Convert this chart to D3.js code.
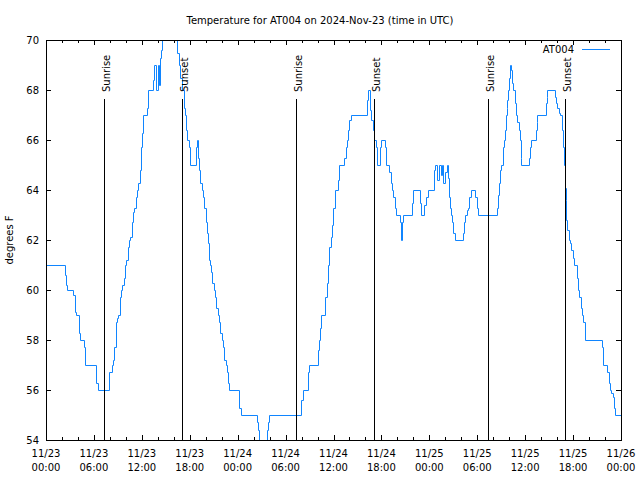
<!DOCTYPE html>
<html>
<head>
<meta charset="utf-8">
<script src="https://cdn.jsdelivr.net/npm/d3@7"></script>
<style>
  body { margin: 0; background: #fff; }
</style>
</head>
<body>
<svg id="chart" width="640" height="480"></svg>
<script>
// ---------------- DATA ----------------
// hours since 2024-11-23 00:00 UTC at which the reading changes
const hours = [
  0, 2.34, 2.50, 2.67, 3.42, 3.59, 3.76, 4.09, 4.26, 4.76, 4.93, 6.30, 6.47, 7.89, 8.22, 8.39, 8.56, 8.72, 8.89, 9.06, 9.22, 9.39, 9.56, 9.73, 9.89, 10.06, 10.23, 10.39, 10.56, 10.73, 10.89, 11.06, 11.23, 11.39, 11.56, 11.73, 11.89, 12.06, 12.19,
  12.69, 12.81, 13.36, 13.56, 13.81, 14.02, 14.15, 14.27, 14.40, 14.52, 14.69, 16.44, 16.61, 16.78, 16.99, 17.24, 17.36, 17.49, 17.61, 17.86, 18.03, 18.78, 18.91, 19.03, 19.16, 19.33, 19.49, 19.66, 19.83, 19.99, 20.16, 20.29, 20.41, 20.58, 20.70, 20.83, 21.00, 21.16, 21.33, 21.50, 21.66, 21.83, 22.00, 22.16, 22.33, 22.50, 22.66, 22.83, 22.96,
  24.21, 24.37, 26.38, 26.54, 26.71, 27.67, 27.84, 27.96, 31.97, 32.14, 32.85, 32.97, 34.00, 34.14, 34.31, 34.48, 34.98, 35.14, 35.31, 35.48, 35.65, 35.81, 35.98, 36.15,
  36.56, 36.73, 37.35, 37.52, 37.69, 37.81, 37.98, 38.15, 40.19, 40.32, 40.53, 40.74, 40.90, 41.03, 41.28, 41.40, 41.78, 41.90, 42.40, 42.57, 42.99, 43.16, 43.32, 43.49, 43.66, 43.78, 44.37, 44.45, 44.53, 44.66, 45.79, 45.95, 46.83, 47.00, 47.37, 47.58, 47.79,
  48.58, 48.71, 48.96, 49.21, 49.46, 49.63, 49.76, 50.01, 50.17, 50.34, 50.46, 50.58, 50.75, 50.88, 51.00, 51.17, 52.25, 52.38, 52.50, 52.67, 52.84, 53.01, 53.17, 53.67, 53.92, 54.09, 56.47, 56.60, 56.72, 56.85, 57.01, 57.18, 57.35, 57.51, 57.60, 57.68, 57.76, 57.85, 58.01, 58.14, 58.26, 58.39, 58.52, 58.68, 58.85, 59.02, 59.18, 59.31, 59.43, 59.52,
  60.49, 60.61, 60.74, 61.32, 61.45, 61.53, 62.57, 62.70, 62.78, 63.70, 63.87, 64.03, 64.20, 64.37, 64.66, 64.79, 64.91, 64.99, 65.08, 65.16, 65.29, 65.45, 65.62, 65.79, 65.95, 66.12, 66.45, 66.62, 66.79, 66.96, 67.12, 67.29, 67.46, 69.59, 69.75, 70.30, 70.46, 70.63, 70.80, 70.96, 71.13, 71.30, 72.00
];
// temperature (degrees F) from each of those times on
const tempF = [
  61, 60.6, 60.2, 60, 59.8, 59.1, 59.0, 58.3, 58, 57.7, 57, 56.3, 56, 56.7, 57, 57.2, 57.7, 58.7, 58.9, 59, 59.7, 60, 60.2, 60.5, 61, 61.2, 61.7, 62, 62.1, 62.7, 63.1, 63.3, 63.7, 64, 64.3, 64.8, 65.7, 66.3, 67,
  67.3, 68, 68.4, 69, 68, 69, 68.2, 69.3, 69.6, 70, 71, 69.5, 69, 68.5, 68, 67.3, 67, 66.4, 66, 65.7, 65, 65.7, 66, 65.3, 64.8, 64.3, 64, 63.7, 63.3, 62.7, 62.3, 61.9, 61.2, 61, 60.7, 60.3, 60, 59.7, 59.3, 59, 58.7, 58.3, 58, 57.7, 57.2, 57, 56.7, 56.3, 56,
  55.3, 55, 54.7, 54.4, 53.5, 54.4, 54.7, 55, 55.6, 56, 56.7, 57, 57.6, 58, 58.5, 59, 59.7, 60.3, 61, 61.7, 62.1, 62.6, 63.3, 64,
  64.4, 65, 65.3, 65.7, 66, 66.4, 66.8, 67, 67.6, 68, 67.2, 66.8, 66.4, 66, 65.7, 65, 65.7, 66, 65.7, 65, 64.7, 64.3, 64, 63.7, 63.3, 63, 62.7, 62, 62.7, 63, 63.5, 64, 63.5, 63, 63.4, 63.7, 64,
  64.8, 65, 64.4, 65, 64.6, 65, 64.3, 64.7, 65, 64.5, 63.7, 63.3, 63, 62.7, 62.3, 62, 62.3, 62.7, 63, 63.2, 63.3, 63.7, 64, 63.7, 63.3, 63, 63.3, 63.8, 64.3, 64.8, 65, 65.7, 66, 66.4, 67, 67.3, 67.6, 68, 68.5, 69, 68.8, 68.3, 68, 67.5, 67, 66.7, 66.4, 66, 65.3, 65,
  65.3, 65.7, 66, 66.4, 66.7, 67, 67.5, 67.7, 68, 67.7, 67.5, 67.3, 67.1, 67, 66.4, 65.7, 65, 64.1, 63.6, 62.8, 62.4, 62, 61.9, 61.6, 61.3, 61, 60.5, 60, 59.7, 59.3, 59, 58.7, 58, 57.7, 57, 56.7, 56.3, 56, 55.9, 55.7, 55.3, 55, 55
];
const sunriseHours = [7.30, 31.34, 55.38];
const sunsetHours  = [17.07, 41.11, 65.03];
const yTicks = [54, 56, 58, 60, 62, 64, 66, 68, 70];
const yDomain = [54, 70];
const xDomainHours = [0, 72];
const titleText = "Temperature for AT004 on 2024-Nov-23 (time in UTC)";
const seriesName = "AT004";
const yLabel = "degrees F";
const sunriseLabel = "Sunrise";
const sunsetLabel = "Sunset";

// ---------------- DRAWING ----------------
const FONT = "DejaVu Sans";
const LINE_COLOR = "#1085ff";
const start = Date.UTC(2024, 10, 23);
const toDate = h => new Date(start + h * 3600e3);
const m = { l: 46, r: 621, t: 40, b: 440 };
const snap = v => Math.round(v) + 0.5;

const x = d3.scaleUtc().domain(xDomainHours.map(toDate)).range([m.l, m.r]);
const y = d3.scaleLinear().domain(yDomain).range([m.b, m.t]);

const svg = d3.select("#chart");
svg.append("rect").attr("width", 640).attr("height", 480).attr("fill", "#fff");

svg.append("defs").append("clipPath").attr("id", "plotclip")
  .append("rect").attr("x", m.l).attr("y", m.t)
  .attr("width", m.r - m.l + 1).attr("height", m.b - m.t + 1);

const majorT = d3.utcHour.every(6).range(toDate(0), toDate(72.01));
const minorT = d3.utcHour.every(2).range(toDate(0), toDate(72.01))
  .filter(d => d.getUTCHours() % 6 !== 0);

function ax(gen, tx, ty) {
  return svg.append("g")
    .attr("transform", `translate(${tx},${ty})`)
    .call(gen)
    .call(g => {
      g.select(".domain").remove();
      g.attr("font-family", FONT).attr("font-size", 10);
      g.selectAll("line").attr("stroke", "#000").attr("shape-rendering", "crispEdges");
      g.selectAll("text").attr("fill", "#000");
    });
}
ax(d3.axisBottom(x).tickValues(majorT).tickSize(-5).tickFormat(""), 0, m.b);
ax(d3.axisBottom(x).tickValues(minorT).tickSize(-3).tickFormat(""), 0, m.b);
ax(d3.axisTop(x).tickValues(majorT).tickSize(-5).tickFormat(""), 0, m.t);
ax(d3.axisTop(x).tickValues(minorT).tickSize(-3).tickFormat(""), 0, m.t);
ax(d3.axisLeft(y).tickValues(yTicks).tickSize(-5).tickPadding(7).tickFormat(d3.format("d")), m.l, 0);
ax(d3.axisRight(y).tickValues(yTicks).tickSize(-5).tickFormat(""), m.r, 0);

// two-line x tick labels
const fmtD = d3.utcFormat("%m/%d"), fmtT = d3.utcFormat("%H:%M");
const xl = svg.append("g").attr("font-family", FONT).attr("font-size", 10)
  .attr("text-anchor", "middle").attr("fill", "#000");
majorT.forEach(d => {
  const t = xl.append("text").attr("x", x(d)).attr("y", 457);
  t.append("tspan").attr("x", x(d)).text(fmtD(d));
  t.append("tspan").attr("x", x(d)).attr("dy", 14).text(fmtT(d));
});

// data line (pixel-snapped steps)
const pts = d3.zip(hours, tempF);
const line = d3.line()
  .x(d => snap(x(toDate(d[0]))))
  .y(d => snap(y(d[1])))
  .curve(d3.curveStepAfter);
svg.append("g").attr("clip-path", "url(#plotclip)")
  .append("path").datum(pts)
  .attr("d", line)
  .attr("fill", "none")
  .attr("stroke", LINE_COLOR)
  .attr("stroke-width", 1);

// sunrise / sunset markers
const sun = svg.append("g");
function marker(h, label) {
  const px = snap(x(toDate(h)));
  sun.append("line").attr("x1", px).attr("x2", px).attr("y1", 99).attr("y2", m.b)
    .attr("stroke", "#000").attr("stroke-width", 1).attr("shape-rendering", "crispEdges");
  sun.append("text")
    .attr("transform", `translate(${px - 0.5},92) rotate(-90)`)
    .attr("x", 0).attr("y", 5.5)
    .attr("font-family", FONT).attr("font-size", 10).attr("fill", "#000")
    .attr("text-anchor", "start")
    .text(label);
}
sunriseHours.forEach(h => marker(h, sunriseLabel));
sunsetHours.forEach(h => marker(h, sunsetLabel));

// border
svg.append("rect")
  .attr("x", m.l + 0.5).attr("y", m.t + 0.5)
  .attr("width", m.r - m.l).attr("height", m.b - m.t)
  .attr("fill", "none").attr("stroke", "#000").attr("shape-rendering", "crispEdges");

// title
svg.append("text").attr("x", 320).attr("y", 24)
  .attr("text-anchor", "middle").attr("font-family", FONT).attr("font-size", 10)
  .attr("fill", "#000").text(titleText);

// y label
svg.append("text").attr("transform", "translate(13,240) rotate(-90)")
  .attr("text-anchor", "middle").attr("font-family", FONT).attr("font-size", 10)
  .attr("fill", "#000").text(yLabel);

// legend
svg.append("text").attr("x", 574).attr("y", 53)
  .attr("text-anchor", "end").attr("font-family", FONT).attr("font-size", 10)
  .attr("fill", "#000").text(seriesName);
svg.append("line").attr("x1", 582).attr("x2", 610).attr("y1", 49.5).attr("y2", 49.5)
  .attr("stroke", LINE_COLOR).attr("stroke-width", 1).attr("shape-rendering", "crispEdges");
</script>
</body>
</html>
